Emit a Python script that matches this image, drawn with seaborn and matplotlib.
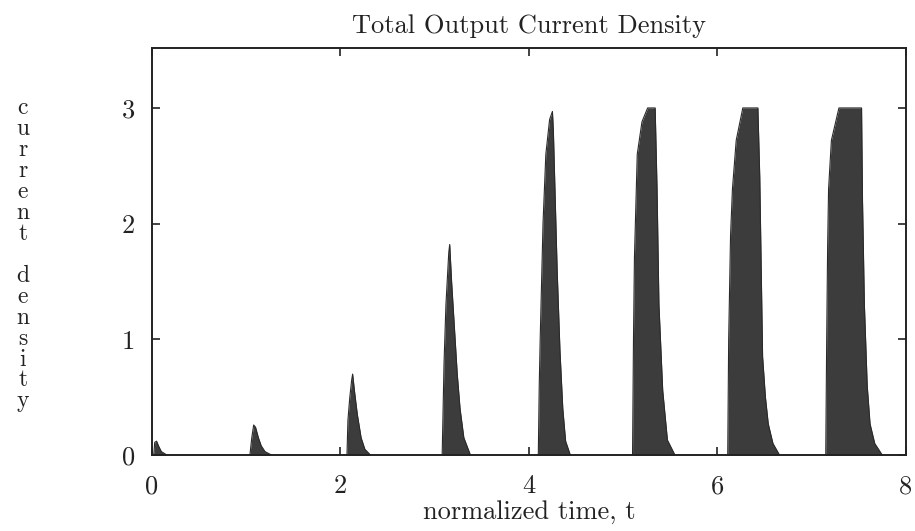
import numpy as np
import pandas as pd
import matplotlib
matplotlib.use("Agg")
import matplotlib.pyplot as plt
import seaborn as sns

# ---------- DATA (outline of each current pulse) ----------
pulse0_t = [0.02, 0.03, 0.05, 0.07, 0.10, 0.16]
pulse0_v = [0.0, 0.11, 0.12, 0.08, 0.03, 0.0]

pulse1_t = [1.04, 1.06, 1.08, 1.10, 1.13, 1.16, 1.20, 1.27]
pulse1_v = [0.0, 0.15, 0.26, 0.24, 0.15, 0.08, 0.03, 0.0]

pulse2_t = [2.07, 2.08, 2.10, 2.12, 2.13, 2.15, 2.18, 2.22, 2.26, 2.32]
pulse2_v = [0.0, 0.30, 0.50, 0.65, 0.70, 0.55, 0.35, 0.15, 0.05, 0.0]

pulse3_t = [3.08, 3.09, 3.10, 3.12, 3.15, 3.16, 3.18, 3.21, 3.24, 3.27, 3.31, 3.38]
pulse3_v = [0.0, 0.40, 0.80, 1.30, 1.75, 1.82, 1.50, 1.10, 0.70, 0.40, 0.15, 0.0]

pulse4_t = [4.10, 4.11, 4.12, 4.15, 4.18, 4.22, 4.25, 4.26, 4.28, 4.30, 4.33, 4.36, 4.39, 4.44]
pulse4_v = [0.0, 0.60, 1.00, 2.00, 2.60, 2.90, 2.97, 2.80, 2.20, 1.60, 0.90, 0.40, 0.12, 0.0]

pulse5_t = [5.10, 5.11, 5.12, 5.15, 5.20, 5.26, 5.34, 5.36, 5.38, 5.42, 5.47, 5.55]
pulse5_v = [0.0, 1.00, 1.70, 2.60, 2.88, 3.00, 3.00, 2.30, 1.30, 0.56, 0.13, 0.0]

pulse6_t = [6.11, 6.12, 6.14, 6.16, 6.20, 6.27, 6.43, 6.45, 6.48, 6.51, 6.54, 6.59, 6.66]
pulse6_v = [0.0, 1.00, 1.90, 2.30, 2.72, 3.00, 3.00, 2.40, 0.85, 0.50, 0.27, 0.10, 0.0]

pulse7_t = [7.15, 7.16, 7.17, 7.18, 7.21, 7.29, 7.53, 7.54, 7.56, 7.59, 7.62, 7.67, 7.75]
pulse7_v = [0.0, 1.00, 1.80, 2.30, 2.72, 3.00, 3.00, 2.20, 1.30, 0.60, 0.27, 0.10, 0.0]

x_ticks = [0, 2, 4, 6, 8]
y_ticks = [0, 1, 2, 3]
# -------------------------------------------------------------------------------

pulses = [(pulse0_t, pulse0_v), (pulse1_t, pulse1_v), (pulse2_t, pulse2_v),
          (pulse3_t, pulse3_v), (pulse4_t, pulse4_v), (pulse5_t, pulse5_v),
          (pulse6_t, pulse6_v), (pulse7_t, pulse7_v)]

df = pd.concat(
    [pd.DataFrame({"t": t, "j": v, "pulse": i}) for i, (t, v) in enumerate(pulses)],
    ignore_index=True,
)

sns.set_style("ticks")
plt.rcParams["font.family"] = ["cmr10", "DejaVu Serif"]
plt.rcParams["axes.formatter.use_mathtext"] = True

fig = plt.figure(figsize=(9.15, 5.31), dpi=100)
ax = fig.add_axes([0.166, 0.143, 0.824, 0.767])

fill_col = "#3c3c3c"
for i, grp in df.groupby("pulse"):
    ax.fill_between(grp["t"], grp["j"], 0, color=fill_col, linewidth=0)
sns.lineplot(data=df, x="t", y="j", units="pulse", estimator=None, sort=False,
             color="#2a2a2a", linewidth=0.8, ax=ax, legend=False)

ax.set_xlim(0, 8)
ax.set_ylim(0, 3.52)
ax.set_xticks(x_ticks)
ax.set_yticks(y_ticks)
ax.set_xticklabels([str(v) for v in x_ticks])
ax.set_yticklabels([str(v) for v in y_ticks])
ax.tick_params(direction="in", length=6, width=1.2, top=True, right=True,
               labelsize=19, colors="#222222")
ax.tick_params(axis="x", pad=14)
ax.tick_params(axis="y", pad=12)
for s in ax.spines.values():
    s.set_linewidth(1.4)
    s.set_color("#222222")
    s.set_visible(True)

ax.set_title("Total Output Current Density", fontsize=19, pad=11, color="#222222")
ax.set_xlabel("normalized time, t", fontsize=19, labelpad=1, color="#222222")
ax.set_ylabel("")

# vertical, letter-stacked y label
ylab = "\n".join(list("current")) + "\n\n" + "\n".join(list("density"))
fig.text(0.025, 0.52, ylab, fontsize=17, ha="center", va="center",
         linespacing=0.93, color="#222222")

fig.savefig("out.png", dpi=100)
plt.close(fig)
